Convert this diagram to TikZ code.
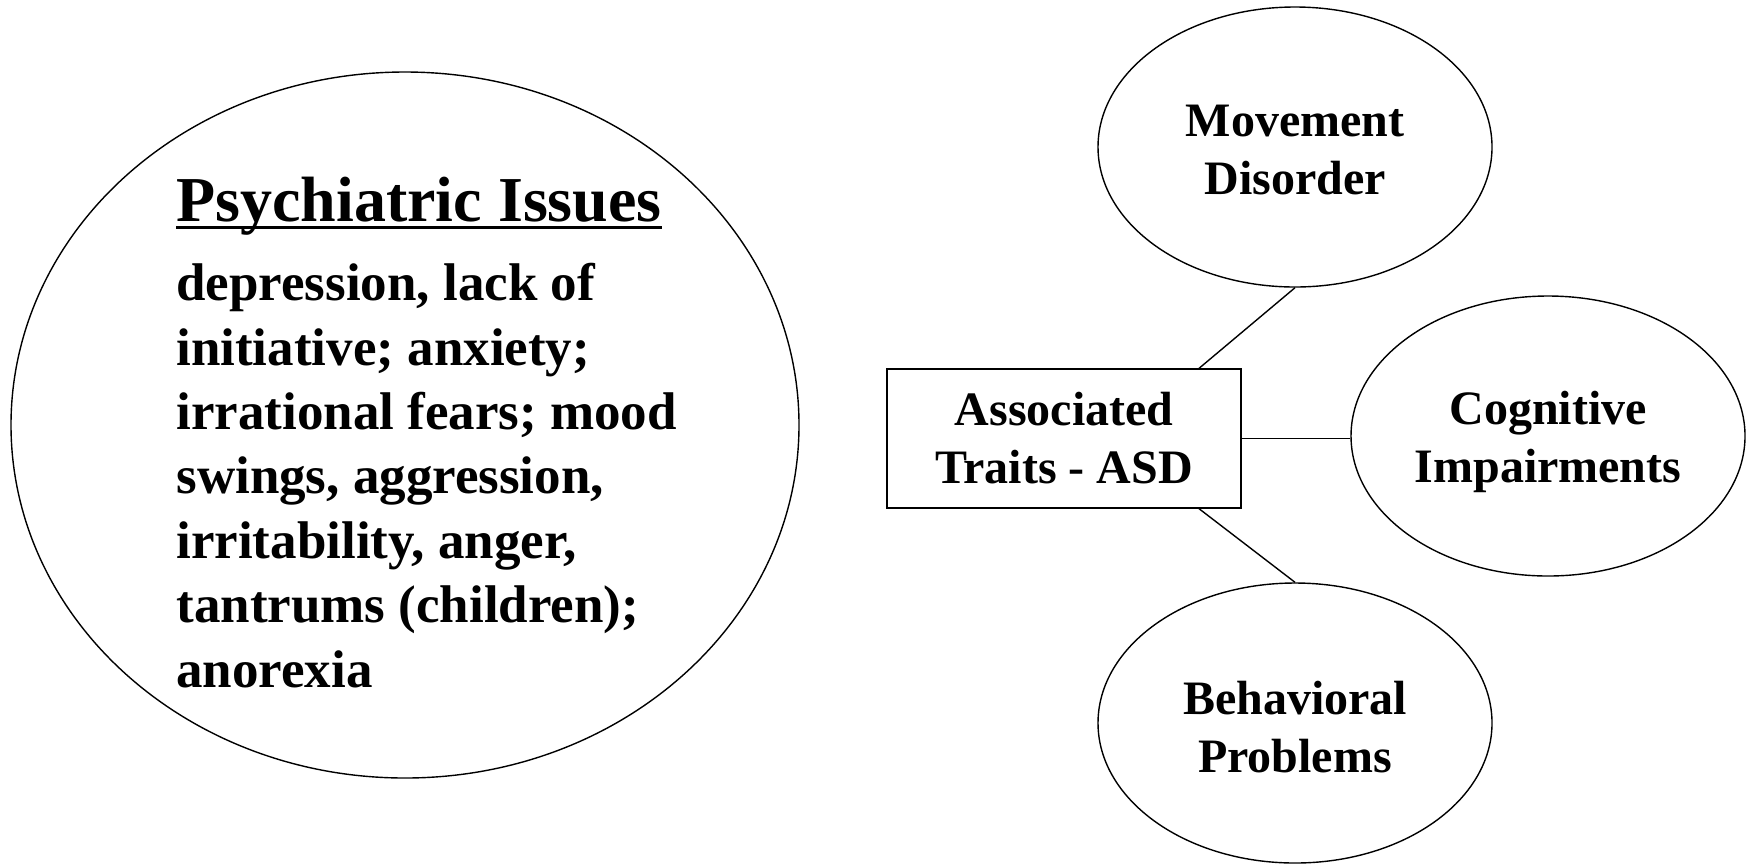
\documentclass[tikz,border=0pt]{standalone}
\usepackage{fontspec}
\setmainfont{Liberation Serif}
\usetikzlibrary{shapes.geometric,calc}
\begin{document}
\begin{tikzpicture}[x=0.5pt,y=-0.5pt,
  oval/.style={draw,ellipse,line width=0.7pt,inner sep=0pt,
    minimum width=197pt,minimum height=140pt,align=center,
    font=\fontsize{24}{29}\selectfont\bfseries},
  bigoval/.style={draw,ellipse,line width=0.7pt,inner sep=0pt,
    minimum width=394pt,minimum height=353pt},
  traitbox/.style={draw,rectangle,line width=0.7pt,inner sep=0pt,
    minimum width=177pt,minimum height=69.5pt,align=center,
    font=\fontsize{24}{29}\selectfont\bfseries},
  label/.style={inner sep=0pt,align=center,
    font=\fontsize{24}{29}\selectfont\bfseries},
  link/.style={line width=0.7pt}]
\useasboundingbox (0,0) rectangle (1748,864);

% left: psychiatric issues
\node[bigoval] (psy) at (405,425) {};
\node[anchor=base west,inner sep=0pt,font=\fontsize{32}{36}\selectfont\bfseries]
  (psytitle) at (176,221)
  {\setbox0\hbox{\bfseries Psychiatric Issues}\rlap{\vrule height -2.4pt depth 3.9pt width \wd0}\box0};
\node[anchor=north west,inner sep=0pt,align=left,
  font=\fontsize{26.5}{32.2}\selectfont\bfseries] (psybody) at (176,263)
  {depression, lack of\\initiative; anxiety;\\irrational fears; mood\\swings, aggression,\\irritability, anger,\\tantrums (children);\\anorexia};

% right: associated traits
\node[traitbox] (asd) at (1064,438.5) {Associated\\Traits - ASD};
\node[oval] (mov) at (1295,147) {};
\node[label] (movtext) at (1295,150) {Movement\\Disorder};
\node[oval] (cog) at (1548,436) {};
\node[label] (cogtext) at (1548,442) {Cognitive\\Impairments};
\node[oval] (beh) at (1295,723) {};
\node[label] (behtext) at (1295,727) {Behavioral\\Problems};

\draw[link] ($(asd.north west)!0.88!(asd.north east)$) -- (mov.south);
\draw[link] (asd.east) -- (asd.east -| cog.west);
\draw[link] ($(asd.south west)!0.88!(asd.south east)$) -- (beh.north);
\end{tikzpicture}
\end{document}
